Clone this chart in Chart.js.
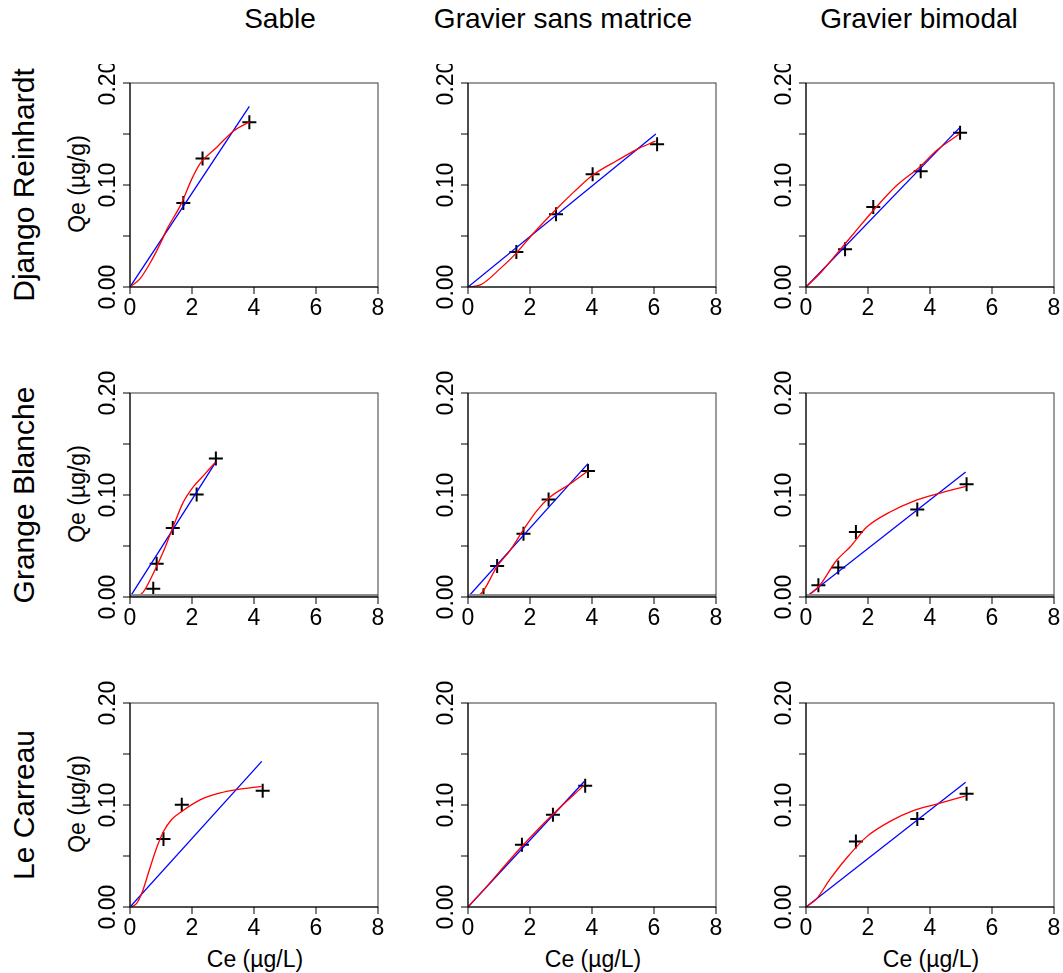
<!DOCTYPE html>
<html>
<head>
<meta charset="utf-8">
<script src="https://cdn.jsdelivr.net/npm/chart.js@4"></script>
<style>
  html, body { margin:0; padding:0; background:#fff; width:1063px; height:973px; overflow:hidden; }
  body { position:relative; font-family:"Liberation Sans", Arial, Helvetica, sans-serif; color:#000; }
  canvas { position:absolute; }
  .t { position:absolute; white-space:nowrap; line-height:1; }
  .rot { transform:translate(-50%,-50%) rotate(-90deg); }
  .hc { transform:translateX(-50%); }
</style>
</head>
<body>
<script>
// ---------- categories & ticks ----------
const sites = ['Django Reinhardt', 'Grange Blanche', 'Le Carreau'];
const media = ['Sable', 'Gravier sans matrice', 'Gravier bimodal'];
const xTitle = 'Ce (µg/L)';
const yTitle = 'Qe (µg/g)';
const xTicks = [0, 2, 4, 6, 8];
const xTickLabels = ['0', '2', '4', '6', '8'];
const yTicks = [0, 0.05, 0.10, 0.15, 0.20];
const yTickLabels = ['0.00', '', '0.10', '', '0.20'];

// ---------- data: Django Reinhardt ----------
const drSableCe = [1.72, 2.34, 3.85];
const drSableQe = [0.0824, 0.126, 0.1615];
const drSableFitCe = [0, 0.32, 0.64, 1.0, 1.18, 1.66, 1.98, 2.26, 2.8, 3.34, 3.86];
const drSableFitQe = [0, 0.008, 0.023, 0.044, 0.056, 0.082, 0.105, 0.121, 0.137, 0.153, 0.162];
const drSableLinCe = [0, 3.85];
const drSableLinQe = [0, 0.177];

const drGsmCe = [1.56, 2.84, 4.02, 6.10];
const drGsmQe = [0.0343, 0.0713, 0.1105, 0.140];
const drGsmFitCe = [0, 0.4, 1.04, 1.58, 2.06, 2.87, 3.41, 4.02, 4.81, 5.45, 6.05];
const drGsmFitQe = [0, 0.002, 0.018, 0.034, 0.051, 0.077, 0.093, 0.1095, 0.124, 0.135, 0.143];
const drGsmLinCe = [0, 6.06];
const drGsmLinQe = [0, 0.150];

const drGbCe = [1.26, 2.17, 3.70, 4.97];
const drGbQe = [0.037, 0.0784, 0.1134, 0.1513];
const drGbFitCe = [0, 0.5, 1.0, 1.5, 2.17, 2.93, 3.68, 4.22, 4.95];
const drGbFitQe = [0, 0.015, 0.033, 0.051, 0.075, 0.0997, 0.118, 0.134, 0.150];
const drGbLinCe = [0, 4.95];
const drGbLinQe = [0, 0.156];

// ---------- data: Grange Blanche ----------
const gbSableCe = [0.75, 0.86, 1.38, 2.15, 2.77];
const gbSableQe = [0.0082, 0.0327, 0.0677, 0.1004, 0.1357];
const gbSableFitCe = [0, 0.25, 0.43, 0.75, 1.07, 1.38, 1.72, 2.04, 2.37, 2.75];
const gbSableFitQe = [0, 0.001, 0.005, 0.023, 0.044, 0.068, 0.093, 0.108, 0.119, 0.132];
const gbSableLinCe = [0, 2.75];
const gbSableLinQe = [0, 0.1314];

const gbGsmCe = [0.50, 0.94, 1.79, 2.60, 3.87];
const gbGsmQe = [0.0017, 0.0304, 0.0621, 0.0955, 0.1235];
const gbGsmFitCe = [0, 0.39, 0.94, 1.36, 1.79, 2.23, 2.65, 3.30, 3.87];
const gbGsmFitQe = [0, 0.0026, 0.030, 0.0458, 0.066, 0.085, 0.098, 0.111, 0.1235];
const gbGsmLinCe = [0, 3.87];
const gbGsmLinQe = [0, 0.1307];

const gbGbCe = [0.40, 1.04, 1.61, 3.59, 5.18];
const gbGbQe = [0.0115, 0.0288, 0.0637, 0.0857, 0.1105];
const gbGbFitCe = [0, 0.4, 0.99, 1.42, 1.96, 2.71, 3.46, 4.27, 5.16];
const gbGbFitQe = [0, 0.0098, 0.036, 0.049, 0.0686, 0.0833, 0.0938, 0.1014, 0.1085];
const gbGbLinCe = [0, 5.15];
const gbGbLinQe = [0, 0.1225];

// ---------- data: Le Carreau ----------
const lcSableCe = [1.08, 1.67, 4.28];
const lcSableQe = [0.0667, 0.1003, 0.114];
const lcSableFitCe = [0, 0.2, 0.4, 0.6, 0.86, 1.08, 1.35, 1.67, 2.26, 2.91, 3.44, 4.25];
const lcSableFitQe = [0, 0.003, 0.015, 0.034, 0.058, 0.074, 0.086, 0.0937, 0.105, 0.1118, 0.115, 0.1183];
const lcSableLinCe = [0, 4.25];
const lcSableLinQe = [0, 0.1428];

const lcGsmCe = [1.74, 2.74, 3.78];
const lcGsmQe = [0.0611, 0.0905, 0.1189];
const lcGsmFitCe = [0, 0.5, 1.0, 1.74, 2.74, 3.75];
const lcGsmFitQe = [0, 0.0165, 0.034, 0.0595, 0.091, 0.1195];
const lcGsmLinCe = [0, 3.75];
const lcGsmLinQe = [0, 0.1231];

const lcGbCe = [1.61, 3.59, 5.18];
const lcGbQe = [0.0643, 0.0863, 0.111];
const lcGbFitCe = [0, 0.34, 0.77, 1.31, 1.96, 2.71, 3.46, 4.27, 5.16];
const lcGbFitQe = [0, 0.008, 0.027, 0.048, 0.069, 0.0839, 0.0944, 0.1013, 0.109];
const lcGbLinCe = [0, 5.15];
const lcGbLinQe = [0, 0.1222];

// ---------- panel table built from the arrays ----------
const panels = [
  [drSableCe, drSableQe, drSableFitCe, drSableFitQe, drSableLinCe, drSableLinQe],
  [drGsmCe, drGsmQe, drGsmFitCe, drGsmFitQe, drGsmLinCe, drGsmLinQe],
  [drGbCe, drGbQe, drGbFitCe, drGbFitQe, drGbLinCe, drGbLinQe],
  [gbSableCe, gbSableQe, gbSableFitCe, gbSableFitQe, gbSableLinCe, gbSableLinQe],
  [gbGsmCe, gbGsmQe, gbGsmFitCe, gbGsmFitQe, gbGsmLinCe, gbGsmLinQe],
  [gbGbCe, gbGbQe, gbGbFitCe, gbGbFitQe, gbGbLinCe, gbGbLinQe],
  [lcSableCe, lcSableQe, lcSableFitCe, lcSableFitQe, lcSableLinCe, lcSableLinQe],
  [lcGsmCe, lcGsmQe, lcGsmFitCe, lcGsmFitQe, lcGsmLinCe, lcGsmLinQe],
  [lcGbCe, lcGbQe, lcGbFitCe, lcGbFitQe, lcGbLinCe, lcGbLinQe]
];

// ---------- layout ----------
const FONT = '"Liberation Sans", Arial, Helvetica, sans-serif';
const plotLefts = [130, 468, 806];
const plotTops = [83, 393, 703];
const plotW = 248, plotH = 204;
const padL = 40, padR = 16, padB = 40;

function pts(xs, ys) { return xs.map((v, i) => ({ x: v, y: ys[i] })); }

const axesPlugin = {
  id: 'rAxes',
  afterDraw(chart) {
    const { ctx, chartArea: a, scales: { x, y } } = chart;
    const o = chart.options.plugins.rAxes;
    ctx.save();
    if (o.baseline) {
      ctx.strokeStyle = '#8c8c8c';
      ctx.lineWidth = 3;
      const yb = y.getPixelForValue(0) - 1.5;
      ctx.beginPath(); ctx.moveTo(a.left, yb); ctx.lineTo(a.right, yb); ctx.stroke();
    }
    // box
    ctx.strokeStyle = '#3a3a3a';
    ctx.lineWidth = 1;
    ctx.strokeRect(a.left, a.top, a.right - a.left, a.bottom - a.top);
    ctx.strokeStyle = '#000';
    // x axis
    const yb0 = y.getPixelForValue(0);
    ctx.beginPath();
    ctx.moveTo(x.getPixelForValue(xTicks[0]), yb0);
    ctx.lineTo(x.getPixelForValue(xTicks[xTicks.length - 1]), yb0);
    xTicks.forEach(v => { const px = x.getPixelForValue(v); ctx.moveTo(px, yb0); ctx.lineTo(px, yb0 + 7); });
    // y axis
    const xl = x.getPixelForValue(0);
    ctx.moveTo(xl, y.getPixelForValue(yTicks[0]));
    ctx.lineTo(xl, y.getPixelForValue(yTicks[yTicks.length - 1]));
    yTicks.forEach(v => { const py = y.getPixelForValue(v); ctx.moveTo(xl, py); ctx.lineTo(xl - 7, py); });
    ctx.stroke();
    // labels
    ctx.fillStyle = '#000';
    ctx.font = '23px ' + FONT;
    ctx.textAlign = 'center';
    ctx.textBaseline = 'alphabetic';
    xTicks.forEach((v, i) => ctx.fillText(xTickLabels[i], x.getPixelForValue(v), yb0 + 28));
    yTicks.forEach((v, i) => {
      if (!yTickLabels[i]) return;
      ctx.save();
      ctx.translate(xl - 15, y.getPixelForValue(v));
      ctx.rotate(-Math.PI / 2);
      ctx.fillText(yTickLabels[i], 0, 0);
      ctx.restore();
    });
    ctx.restore();
  }
};

function addText(txt, cls, left, top, size) {
  const d = document.createElement('div');
  d.className = 't ' + cls;
  d.textContent = txt;
  d.style.left = left + 'px';
  d.style.top = top + 'px';
  d.style.fontSize = size + 'px';
  document.body.appendChild(d);
}

// column titles
const colTitleX = [280, 563, 919];
media.forEach((m, c) => addText(m, 'hc', colTitleX[c], 5, 28));
// row titles & y axis titles
sites.forEach((s, r) => {
  const cy = plotTops[r] + plotH / 2;
  addText(s, 'rot', 23.5, cy, 30);
  addText(yTitle, 'rot', 76.5, cy - 1, 23);
});
// x titles
plotLefts.forEach(l => addText(xTitle, 'hc', l + plotW / 2 + 1, 947.5, 23));

panels.forEach((p, k) => {
  const r = Math.floor(k / 3), c = k % 3;
  const padT = r === 0 ? 19 : 30;
  const cv = document.createElement('canvas');
  const W = padL + plotW + padR, H = padT + plotH + padB;
  cv.width = W; cv.height = H;
  cv.style.left = (plotLefts[c] - padL) + 'px';
  cv.style.top = (plotTops[r] - padT) + 'px';
  cv.style.width = W + 'px'; cv.style.height = H + 'px';
  document.body.appendChild(cv);
  const [ce, qe, fce, fqe, lce, lqe] = p;
  new Chart(cv, {
    type: 'scatter',
    data: {
      datasets: [
        { data: pts(fce, fqe), showLine: true, borderColor: '#ff0000', borderWidth: 1.3,
          pointRadius: 0, cubicInterpolationMode: 'monotone', fill: false },
        { data: pts(lce, lqe), showLine: true, borderColor: '#0000ff', borderWidth: 1.3,
          pointRadius: 0, tension: 0, fill: false },
        { data: pts(ce, qe), showLine: false, pointStyle: 'cross', pointRadius: 7,
          borderColor: '#000', backgroundColor: '#000', pointBorderWidth: 2 }
      ]
    },
    options: {
      responsive: false, animation: false, devicePixelRatio: 1,
      layout: { padding: { left: padL, right: padR, top: padT, bottom: padB } },
      scales: {
        x: { type: 'linear', min: 0, max: 8, display: false },
        y: { type: 'linear', min: 0, max: 0.2, display: false }
      },
      plugins: { legend: { display: false }, tooltip: { enabled: false },
                 rAxes: { baseline: r === 1 } },
      events: []
    },
    plugins: [axesPlugin]
  });
});
</script>
</body>
</html>
